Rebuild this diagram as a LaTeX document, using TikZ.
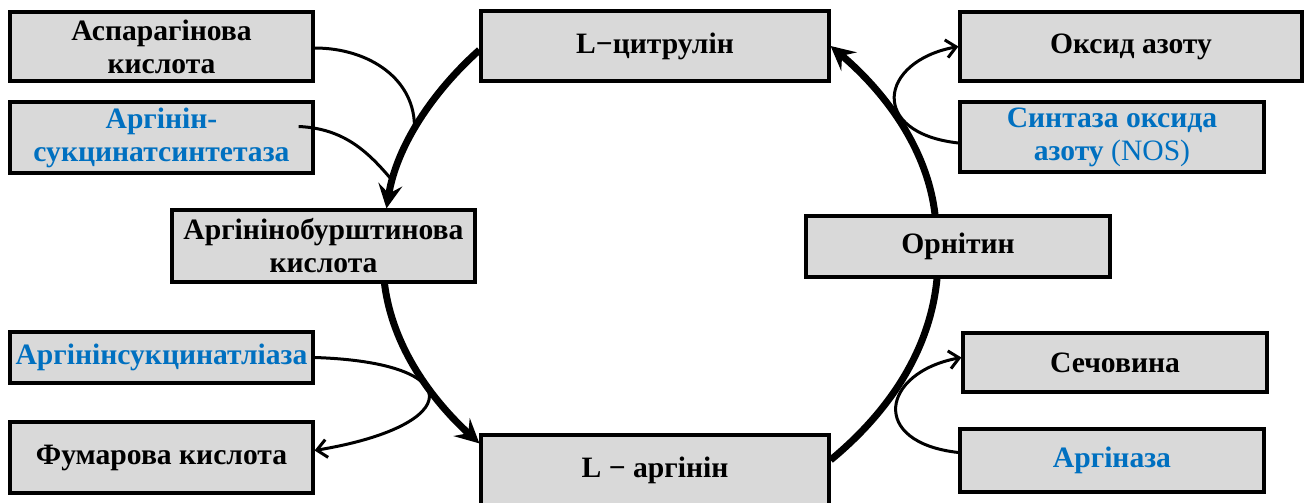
\documentclass[tikz,border=0pt]{standalone}
\usepackage{fontspec}
\setmainfont{Liberation Serif}
\usetikzlibrary{arrows.meta,calc}
\definecolor{boxgray}{HTML}{D9D9D9}
\definecolor{enzblue}{HTML}{0070C0}
\begin{document}
\begin{tikzpicture}[x=0.5pt,y=-0.5pt,
  box/.style={draw=black, line width=1.6pt, fill=boxgray, inner sep=0pt, align=center,
              font=\bfseries\fontsize{14.8}{16.5}\selectfont, text=black},
  enz/.style={box, text=enzblue},
  sz/.style 2 args={minimum width=#1*0.5pt, minimum height=#2*0.5pt},
  cyc/.style={line width=3.5pt, -{Stealth[length=12pt,width=12pt,inset=4.5pt]}},
  thinline/.style={line width=1.5pt},
  thinarr/.style={thinline, -{Straight Barb[length=5pt,width=9pt]}}
]
\useasboundingbox (0,0) rectangle (1307,503);

\node[box, sz={303}{69}] (asp) at (161.5,46.5) {Аспарагінова\\кислота};
\node[enz, sz={303}{71}] (ass) at (161.5,137.5) {Аргінін-\\сукцинатсинтетаза};
\node[box, sz={348}{70}] (cit) at (655,46) {L−цитрулін};
\node[box, sz={342}{69}] (no) at (1131,46.5) {Оксид азоту};
\node[enz, sz={304}{70}] (nos) at (1112,137) {Синтаза оксида\\азоту {\mdseries (NOS)}};
\node[box, sz={303}{72}] (abk) at (323.5,246) {Аргінінобурштинова\\кислота};
\node[box, sz={304}{61}] (orn) at (958,246.5) {Орнітин};
\node[enz, sz={303}{51}] (asl) at (161.5,357.5) {Аргінінсукцинатліаза};
\node[box, sz={303}{71}] (fum) at (161.5,457.5) {Фумарова кислота};
\node[box, sz={348}{70}] (arg) at (655,470) {L − аргінін};
\node[box, sz={304}{59}] (sech) at (1115,362.5) {Сечовина};
\node[enz, sz={304}{63}] (argz) at (1112,460.5) {Аргіназа};

% main cycle
\draw[cyc] ($(cit.west)+(0,4)$) .. controls +(-47,42) and +(10,-62) .. ($(abk.north)+(63,0)$)
  coordinate[pos=0.55] (m1) coordinate[pos=0.85] (m2);
\draw[cyc] ($(abk.south)+(61,0)$) .. controls +(8,64) and +(-47,-43) .. ($(arg.north west)+(0,10)$);
\draw[line width=3.5pt] ($(arg.east)+(0,-10)$) .. controls +(57,-47) and +(-7,73) .. ($(orn.south)+(-21,0)$);
\draw[cyc] ($(orn.north)+(-23,0)$) .. controls +(-8,-68) and +(52,44) .. (cit.east);

% side reactions
\draw[thinline] ($(asp.east)+(0,1.5)$) .. controls +(55,0) and +(2,-50) .. (m1);
\draw[thinline] ($(ass.east)+(-16,-11)$) .. controls +(45,2) and +(-25,-30) .. (m2);
\draw[thinarr] (asl.east) .. controls +(155,5) and +(150,-25) .. ($(fum.east)+(0,-7)$);
\draw[thinarr] ($(argz.west)+(0,-8)$) .. controls +(-90,-10) and +(-80,15) .. ($(sech.west)+(0,-5)$);
\draw[thinarr] ($(nos.west)+(0,6)$) .. controls +(-90,-10) and +(-80,15) .. (no.west);
\end{tikzpicture}
\end{document}
